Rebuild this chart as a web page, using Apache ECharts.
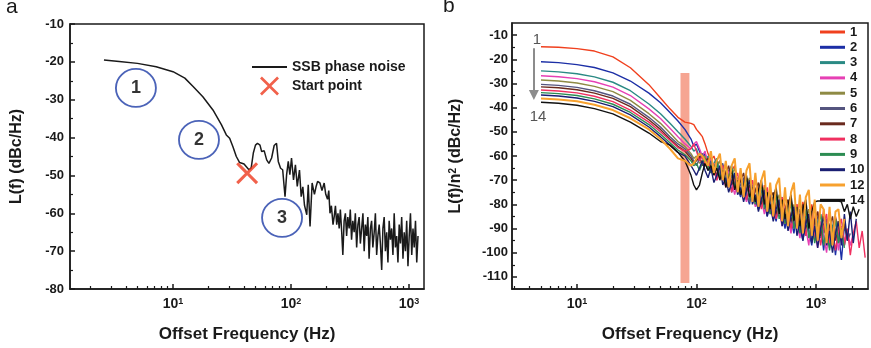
<!DOCTYPE html>
<html>
<head>
<meta charset="utf-8">
<title>SSB phase noise</title>
<script src="https://cdn.jsdelivr.net/npm/echarts@6.0.0/dist/echarts.min.js"></script>
<style>
  html, body { margin: 0; padding: 0; background: #fff; }
  #chart { width: 871px; height: 348px; }
</style>
</head>
<body>
<div id="chart"></div>
<script>
// ---------- panel a : SSB phase noise ----------
var freqA = [2.6, 3.5, 5, 7.2, 10, 12.6, 14.8, 17.9, 21.8, 25.7, 28.3, 30.2, 32.2, 34.4, 36.7, 40, 44, 46, 48, 50,
  52, 54.6, 56.4, 59.3, 62.2, 65, 68.5, 72, 75.4, 78, 81.6, 85, 89, 91.8, 94.8, 97.8, 101, 105, 109, 113,
  118, 122, 126, 130, 136, 140, 145, 151, 158, 163, 168, 176, 183, 191, 197, 204, 209, 214, 220, 227,
  232, 238, 244, 250, 256, 262, 269, 275, 282, 289, 296, 303, 311, 318, 326, 334, 343, 351, 360, 369,
  378, 387, 397, 407, 417, 427, 438, 448, 459, 471, 482, 494, 507, 519, 532, 545, 559, 572, 587, 601,
  616, 631, 647, 663, 679, 696, 713, 731, 749, 767, 786, 806, 826, 846, 867, 889, 911, 933, 956, 980,
  1004, 1029, 1055, 1081, 1107, 1135, 1163, 1192];
var levelA = [-19.5, -19.9, -20.4, -21.3, -22.6, -24.3, -26.5, -29.2, -32.7, -36.6, -39.3, -40.2, -42.4, -45, -46.6, -47, -48.5, -48, -44, -42,
  -41.5, -42, -43.7, -43.5, -45.9, -46.8, -45.4, -42.1, -41.5, -46.3, -48.1, -48.5, -55.6, -49.8, -46.3, -49.8, -45.4, -51.2, -47.2, -52.9,
  -48.6, -55.6, -53, -57.8, -60.4, -52.5, -63.5, -52, -55, -53, -51.6, -52, -54, -52, -55, -56.3, -54, -60, -58, -63,
  -61, -58, -63, -60, -64, -59, -65, -71, -62, -60, -66, -61, -64, -59, -67, -62, -65, -60, -69, -63,
  -61, -68, -64, -60, -70, -63, -66, -61, -72, -64, -62, -69, -65, -60, -71, -66, -63, -68, -75, -64,
  -61, -70, -65, -73, -62, -67, -64, -71, -60, -69, -66, -73, -63, -68, -61, -72, -65, -70, -62, -74,
  -66, -60, -71, -64, -69, -62, -73, -66];
var startFreq = [42.5];
var startLevel = [-49.4];
var regionFreq = [4.85, 16.6, 84];
var regionLevel = [-26.9, -40.6, -61.2];
var regionText = ['1', '2', '3'];

// ---------- panel b : L(f)/n^2 for n = 1..14 ----------
var freqB = [5, 7, 10, 14, 20, 28, 40, 50, 60, 70, 80,
  90, 95, 100, 106, 112, 118, 125, 132, 140, 148,
  157, 166, 176, 186, 197, 209, 221, 234, 248, 262,
  278, 294, 311, 330, 349, 370, 391, 414, 439, 464,
  492, 521, 551, 584, 618, 654, 693, 734, 777, 822,
  871, 922, 976, 1033, 1094, 1159, 1227, 1299, 1375, 1456,
  1542, 1633, 1729, 1830, 1938, 2052, 2173, 2300, 2436, 2580];
var traceNames = ['1', '2', '3', '4', '5', '6', '7', '8', '9', '10', '12', '14'];
var traceColors = ['#F0401E', '#1C2FA6', '#2A8A84', '#E640B4', '#8E8A44', '#55557F', '#6A2A1E', '#F03060', '#2C8C52', '#1A1F72', '#F7A12E', '#111111'];
var s1 = [-14.8, -15, -15.6, -16.6, -19, -23.5, -30.5, -36, -40.5, -44, -46,
  -46.5, -47, -49, -50.5, -52, -55, -59, -62, -60, -64, -62, -67, -63, -70, -66, -64, -72, -68, -74, -69,
  -71, -77, -70, -75, -80, -72, -78, -74, -82, -76, -84, -77, -81, -86, -78, -84, -80, -88, -79, -85,
  -90, -80, -87, -83, -92, -82, -89, -84, -93, -85, -90, -86];
var s2 = [-21, -21.4, -22.2, -23.4, -25.6, -29, -34, -38, -42, -45.5, -49,
  -53, -56, -55, -58, -61, -59, -63, -60, -66, -62, -69, -64, -72, -67, -75, -68, -73, -77, -70, -76,
  -80, -72, -78, -82, -74, -80, -85, -76, -82, -87, -79, -84, -90, -81, -86, -92, -83, -89, -95, -85,
  -91, -97, -86, -93, -88, -99, -89, -95, -90, -101, -91, -103, -89, -94];
var s3 = [-24.8, -25.2, -26, -27.3, -29.5, -33, -38.5, -42.5, -46.5, -50, -53,
  -56, -58, -57, -61, -59, -62, -60, -65, -63, -61, -68, -65, -70, -66, -64, -72, -69, -75, -71, -78,
  -73, -70, -79, -75, -81, -77, -74, -83, -79, -85, -80, -77, -88, -82, -79, -90, -84, -87, -81, -93,
  -86, -83, -95, -87, -84, -92, -88, -98, -89, -86, -94, -90, -97, -91];
var s4 = [-26.8, -27.2, -28, -29.3, -31.5, -35, -40.5, -44.5, -48.5, -52, -55,
  -57, -55, -54, -57, -60, -58, -64, -61, -66, -70, -64, -68, -73, -66, -71, -76, -70, -67, -74, -79,
  -72, -76, -81, -74, -78, -84, -77, -81, -86, -79, -83, -89, -81, -86, -92, -83, -88, -94, -84, -90,
  -97, -85, -91, -98, -87, -93, -100, -88, -94, -90, -99, -89, -95, -91, -97, -92];
var s5 = [-28.6, -29, -29.8, -31.2, -33.4, -37, -42.5, -46.5, -50.5, -54, -56,
  -59, -61, -60, -63, -62, -60, -65, -63, -67, -64, -62, -69, -66, -71, -68, -65, -73, -70, -76, -72,
  -69, -77, -74, -80, -76, -73, -82, -78, -84, -80, -76, -86, -82, -88, -84, -80, -89, -85, -91, -86,
  -82, -92, -88, -94, -89, -85, -95, -90, -96, -91, -87, -94];
var s6 = [-30.4, -30.8, -31.6, -33, -35.2, -38.6, -44, -48, -52, -55, -57,
  -60, -62, -64, -61, -59, -63, -66, -62, -65, -69, -66, -63, -70, -73, -68, -71, -75, -72, -69, -76,
  -79, -74, -77, -81, -78, -75, -83, -80, -77, -85, -82, -79, -87, -83, -80, -89, -85, -82, -90, -87,
  -84, -93, -88, -85, -94, -89, -86, -95, -90, -87, -96, -91, -88, -95, -92];
var s7 = [-31.4, -31.8, -32.6, -34, -36.2, -39.6, -45, -49, -53, -56, -58,
  -61, -63, -62, -60, -64, -62, -61, -66, -64, -68, -65, -70, -67, -64, -72, -69, -74, -70, -67, -75,
  -72, -78, -74, -71, -80, -77, -82, -78, -75, -84, -80, -86, -82, -78, -87, -83, -89, -84, -80, -90,
  -86, -92, -87, -83, -93, -88, -94, -89, -85, -95, -90, -93, -88, -94];
var s8 = [-32.7, -33.1, -33.9, -35.3, -37.5, -41, -46, -50, -53.5, -56.5, -58,
  -57, -55, -58, -62, -60, -64, -62, -67, -63, -70, -66, -64, -72, -68, -75, -70, -67, -76, -72, -78,
  -74, -70, -79, -76, -82, -77, -73, -84, -79, -86, -81, -77, -88, -83, -90, -84, -80, -91, -86, -93,
  -87, -83, -95, -88, -97, -89, -84, -96, -90, -99, -91, -86, -97, -90, -101, -92, -87, -98, -91, -102];
var s9 = [-33.8, -34.2, -35, -36.4, -38.6, -42, -47, -51, -54.5, -57.5, -59.5,
  -62, -64, -63, -66, -63, -61, -64, -67, -65, -62, -69, -66, -71, -68, -65, -73, -70, -76, -72, -69,
  -78, -74, -80, -76, -72, -82, -78, -84, -80, -76, -86, -82, -88, -83, -79, -90, -85, -92, -86, -82,
  -94, -88, -96, -89, -84, -97, -90, -99, -91, -86, -96, -90, -98];
var s10 = [-34.8, -35.2, -36, -37.4, -39.6, -43, -48, -52, -55.5, -58.5, -60,
  -64, -66, -68, -65, -62, -66, -69, -65, -71, -68, -64, -72, -69, -75, -71, -67, -76, -73, -79, -74,
  -70, -80, -76, -83, -78, -74, -85, -80, -87, -82, -78, -89, -84, -91, -85, -81, -93, -87, -95, -88,
  -84, -96, -89, -98, -90, -85, -97, -91, -100, -92, -87, -97, -84, -95, -83, -96, -86];
var s12 = [-36.2, -36.6, -37.4, -38.8, -41, -44.4, -49, -53, -57, -61, -62,
  -64, -63, -61, -59, -60, -62, -64, -58, -67, -62, -59, -70, -62, -73, -64, -61, -75, -65, -77, -66,
  -63, -79, -67, -81, -70, -66, -83, -71, -85, -72, -69, -87, -73, -89, -75, -71, -90, -76, -92, -77,
  -74, -93, -78, -95, -80, -82, -96, -81, -97, -83, -82, -94, -86];
var s14 = [-37.8, -38.2, -39, -40.4, -42.6, -46, -50.5, -54, -55.5, -58.5, -62,
  -68, -72, -74, -72, -67, -63, -66, -64, -68, -65, -70, -66, -73, -69, -66, -74, -70, -76, -72, -68,
  -77, -73, -79, -74, -70, -80, -75, -82, -77, -73, -84, -78, -86, -80, -76, -87, -81, -89, -82, -78,
  -90, -83, -79, -78.6, -78.6, -78.6, -78.6, -78.6, -78.6, -78.6, -78.6, -79, -83, -80, -86, -81, -85, -82];
var traceLevels = [s1, s2, s3, s4, s5, s6, s7, s8, s9, s10, s12, s14];

// shaded band, order arrow and its labels (panel b)
var bandFreq = [73.5, 87.3];
var bandLevel = [-25.7, -112.5];
var arrowFreq = 4.36;
var arrowLevel = [-15.4, -34.8];
var orderText = ['1', '14'];
var orderFreq = [4.62, 4.72];
var orderLevel = [-12.1, -43.9];

// ticks
var decadeTicks = [10, 100, 1000];
var minorTicksA = [2, 3, 4, 5, 6, 7, 8, 9, 20, 30, 40, 50, 60, 70, 80, 90, 200, 300, 400, 500, 600, 700, 800, 900];
var minorTicksB = [3, 4, 5, 6, 7, 8, 9, 20, 30, 40, 50, 60, 70, 80, 90, 200, 300, 400, 500, 600, 700, 800, 900, 2000];
var levelTicksB = [-110, -100, -90, -80, -70, -60, -50, -40, -30, -20, -10];
var minorLevelTicksB = [-105, -95, -85, -75, -65, -55, -45, -35, -25, -15];

var FONT = 'Arial, "Liberation Sans", sans-serif';
var INK = '#1a1a1a';
var X_MARK = 'path://M0,2 L2,0 L10,8 L18,0 L20,2 L12,10 L20,18 L18,20 L10,12 L2,20 L0,18 L8,10 Z';
var LINE_ICON_A = 'path://M0,0 L35,0 L35,2 L0,2 Z';
var LINE_ICON_B = 'path://M0,0 L25,0 L25,3 L0,3 Z';

function pairs(xs, ys) {
  var out = [];
  for (var i = 0; i < ys.length; i++) out.push([xs[i], ys[i]]);
  return out;
}

function powLabel(v) {
  return '{b|10}{s|' + Math.round(Math.log(v) / Math.LN10) + '}';
}

var labelRich = {
  b: { fontSize: 14, fontWeight: 'bold', color: INK, fontFamily: FONT },
  s: { fontSize: 9, fontWeight: 'bold', color: INK, fontFamily: FONT, verticalAlign: 'top' }
};

function freqAxis(grid, min, max) {
  return {
    gridIndex: grid, type: 'log', logBase: 10, min: min, max: max,
    name: 'Offset Frequency (Hz)', nameLocation: 'middle', nameGap: 37,
    nameTextStyle: { fontSize: 17, fontWeight: 'bold', color: INK, fontFamily: FONT },
    axisLine: { show: true, lineStyle: { color: INK, width: 1.5 } },
    axisTick: { show: true, inside: true, length: 5, customValues: decadeTicks, lineStyle: { color: INK, width: 1.5 } },
    axisLabel: { show: true, customValues: decadeTicks, formatter: powLabel, margin: 8, rich: labelRich },
    splitLine: { show: false }
  };
}

function minorFreqAxis(grid, min, max, ticks) {
  return {
    gridIndex: grid, type: 'log', logBase: 10, min: min, max: max, position: 'bottom',
    axisLine: { show: false },
    axisTick: { show: true, inside: true, length: 3, customValues: ticks, lineStyle: { color: INK, width: 1.2 } },
    axisLabel: { show: false },
    splitLine: { show: false }
  };
}

var levelLabel = { margin: 6, fontSize: 13, fontWeight: 'bold', color: INK, fontFamily: FONT };

var series = [
  {
    name: 'SSB phase noise', type: 'line', xAxisIndex: 0, yAxisIndex: 0,
    data: pairs(freqA, levelA), symbol: 'none',
    lineStyle: { color: INK, width: 1.5 }, itemStyle: { color: INK }, z: 3
  },
  {
    name: 'Start point', type: 'scatter', xAxisIndex: 0, yAxisIndex: 0,
    data: pairs(startFreq, startLevel), symbol: X_MARK, symbolSize: 22,
    itemStyle: { color: '#EE3A1E' }, z: 6
  },
  {
    name: 'regions', type: 'scatter', xAxisIndex: 0, yAxisIndex: 0,
    data: regionText.map(function (t, i) { return { name: t, value: [regionFreq[i], regionLevel[i]] }; }),
    symbol: 'circle', symbolSize: [40, 38],
    itemStyle: { color: 'rgba(255,255,255,0)', borderColor: '#1E3CA6', borderWidth: 1.8 },
    label: { show: true, position: 'inside', formatter: '{b}', fontSize: 18, fontWeight: 'bold', color: '#000', fontFamily: FONT },
    z: 4
  }
];

traceNames.forEach(function (n, i) {
  var isOrange = n === '12';
  var s = {
    name: n, type: 'line', xAxisIndex: 2, yAxisIndex: 1,
    data: pairs(freqB, traceLevels[i]), symbol: 'none',
    lineStyle: { color: traceColors[i], width: isOrange ? 2 : 1.4 }, itemStyle: { color: traceColors[i] },
    z: isOrange ? 4 : (n === '14' ? 3 : 2)
  };
  if (i === 0) {
    s.markArea = {
      silent: true,
      itemStyle: { color: '#F6A08C', opacity: 0.95 },
      data: [[{ coord: [bandFreq[0], bandLevel[0]] }, { coord: [bandFreq[1], bandLevel[1]] }]]
    };
    s.markLine = {
      silent: true, symbol: ['none', 'triangle'], symbolSize: 10,
      lineStyle: { color: '#8C8C8C', width: 2, type: 'solid' },
      label: { show: false },
      data: [[{ coord: [arrowFreq, arrowLevel[0]] }, { coord: [arrowFreq, arrowLevel[1]] }]]
    };
    s.markPoint = {
      silent: true, symbol: 'circle', symbolSize: 1,
      itemStyle: { color: 'rgba(0,0,0,0)' },
      label: { show: true, position: 'inside', formatter: '{b}', fontSize: 15, color: '#555', fontFamily: FONT },
      data: orderText.map(function (t, k) { return { name: t, coord: [orderFreq[k], orderLevel[k]] }; })
    };
  }
  series.push(s);
});

var option = {
  animation: false,
  textStyle: { fontFamily: FONT },
  grid: [
    { left: 70, right: 447, top: 24, bottom: 59, show: true, borderColor: INK, borderWidth: 1.5, outerBoundsMode: 'none' },
    { left: 512, right: 3, top: 23, bottom: 59, show: true, borderColor: INK, borderWidth: 1.5, outerBoundsMode: 'none' }
  ],
  xAxis: [
    freqAxis(0, 1.34, 1340),
    minorFreqAxis(0, 1.34, 1340, minorTicksA),
    freqAxis(1, 2.86, 2725),
    minorFreqAxis(1, 2.86, 2725, minorTicksB)
  ],
  yAxis: [
    {
      gridIndex: 0, type: 'value', min: -80, max: -10, interval: 10,
      name: 'L(f) (dBc/Hz)', nameLocation: 'middle', nameGap: 45,
      nameTextStyle: { fontSize: 16, fontWeight: 'bold', color: INK, fontFamily: FONT },
      axisLine: { show: true, lineStyle: { color: INK, width: 1.5 } },
      axisTick: { show: true, inside: true, length: 5, lineStyle: { color: INK, width: 1.5 } },
      minorTick: { show: true, splitNumber: 2, length: 3, lineStyle: { color: INK, width: 1.2 } },
      axisLabel: levelLabel,
      splitLine: { show: false }, minorSplitLine: { show: false }
    },
    {
      gridIndex: 1, type: 'value', min: -115, max: -5,
      name: 'L(f)/n{sup|2} (dBc/Hz)', nameLocation: 'middle', nameGap: 48,
      nameTextStyle: {
        fontSize: 16, fontWeight: 'bold', color: INK, fontFamily: FONT,
        rich: { sup: { fontSize: 10, fontWeight: 'bold', color: INK, fontFamily: FONT, verticalAlign: 'top' } }
      },
      axisLine: { show: true, lineStyle: { color: INK, width: 1.5 } },
      axisTick: { show: true, inside: true, length: 5, customValues: levelTicksB, lineStyle: { color: INK, width: 1.5 } },
      axisLabel: Object.assign({ customValues: levelTicksB }, levelLabel, { margin: 4 }),
      splitLine: { show: false }
    },
    {
      gridIndex: 1, type: 'value', min: -115, max: -5, position: 'left',
      axisLine: { show: false },
      axisTick: { show: true, inside: true, length: 3, customValues: minorLevelTicksB, lineStyle: { color: INK, width: 1.2 } },
      axisLabel: { show: false },
      splitLine: { show: false }
    }
  ],
  legend: [
    {
      data: [{ name: 'SSB phase noise', icon: LINE_ICON_A }, { name: 'Start point' }],
      orient: 'vertical', left: 252, top: 60, padding: 0,
      itemWidth: 35, itemHeight: 19, itemGap: 2.5, selectedMode: false,
      textStyle: { fontSize: 14, fontWeight: 'bold', color: INK, fontFamily: FONT }
    },
    {
      data: traceNames.map(function (n) { return { name: n, icon: LINE_ICON_B }; }),
      orient: 'vertical', left: 820, top: 25.5, padding: 0,
      itemWidth: 25, itemHeight: 13, itemGap: 2.3, selectedMode: false,
      textStyle: { fontSize: 13, fontWeight: 'bold', color: INK, fontFamily: FONT }
    }
  ],
  graphic: [
    { type: 'text', left: 6, top: -3, style: { text: 'a', font: '21px ' + FONT, fill: INK } },
    { type: 'text', left: 443, top: -4, style: { text: 'b', font: '21px ' + FONT, fill: INK } }
  ],
  series: series
};

var chart = echarts.init(document.getElementById('chart'));
chart.setOption(option);
window.addEventListener('resize', function () { chart.resize(); });
</script>
</body>
</html>
